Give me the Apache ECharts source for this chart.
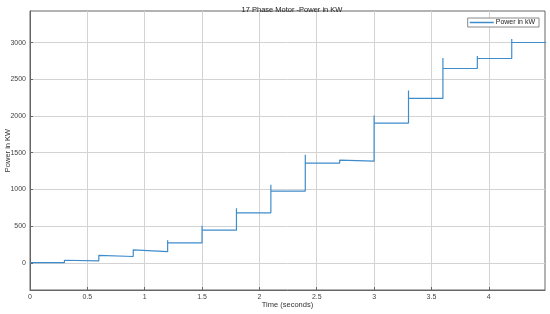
<!DOCTYPE html>
<html>
<head>
<meta charset="utf-8">
<script src="https://cdn.jsdelivr.net/npm/echarts@6/dist/echarts.min.js"></script>
<style>
  html, body { margin: 0; padding: 0; background: #fff; }
  #chart { width: 550px; height: 314px; }
</style>
</head>
<body>
<div id="chart"></div>
<script>
// step times (seconds)
const stepTimes = [0.3, 0.6, 0.9, 1.2, 1.5, 1.8, 2.1, 2.4, 2.7, 3.0, 3.3, 3.6, 3.9, 4.2];
// power level held during each interval (kW)
const levels = [3, 27, 86, 152, 272, 445, 681, 977, 1358, 1385, 1903, 2239, 2647, 2783, 3001];
// short overshoot at each switching instant (kW)
const peaks = [35, 102, 177, 309, 504, 745, 1063, 1471, 1399, 2007, 2348, 2789, 2816, 3048];
const endTime = 4.5;

const xTicks = [0, 0.5, 1, 1.5, 2, 2.5, 3, 3.5, 4];
const yTicks = [0, 500, 1000, 1500, 2000, 2500, 3000];

// build the stepped trace
const trace = [[0, levels[0]]];
stepTimes.forEach((t, i) => {
  trace.push([t, levels[i]]);
  trace.push([t, peaks[i]]);
  trace.push([t, levels[i + 1]]);
});
trace.push([endTime, levels[levels.length - 1]]);

const chart = echarts.init(document.getElementById('chart'));
const font = 'Liberation Sans, Arial, sans-serif';

chart.setOption({
  animation: false,
  textStyle: { fontFamily: font },
  title: {
    text: '17 Phase Motor -Power in KW',
    left: 287,
    textAlign: 'center',
    top: 1,
    textStyle: { fontSize: 7.5, fontWeight: 'normal', color: '#222', fontFamily: font }
  },
  legend: {
    right: 11,
    top: 18,
    padding: [1, 4, 1, 2],
    icon: 'rect',
    itemWidth: 24,
    itemHeight: 1.5,
    borderColor: '#888',
    borderWidth: 1,
    backgroundColor: '#fff',
    textStyle: { fontSize: 7, color: '#222', padding: [0, 0, 0, -3] }
  },
  grid: {
    left: 30, right: 5, top: 11, bottom: 24,
    containLabel: false,
    outerBoundsMode: 'none',
    show: true, borderColor: '#666', borderWidth: 1
  },
  xAxis: {
    type: 'value',
    min: 0,
    max: 4.49,
    name: 'Time (seconds)',
    nameLocation: 'middle',
    nameGap: 11,
    nameMoveOverlap: false,
    nameTextStyle: { fontSize: 7.5, color: '#333' },
    axisLine: { onZero: false, lineStyle: { color: '#666' } },
    axisTick: { inside: true, length: 3, lineStyle: { color: '#666' }, customValues: xTicks },
    axisLabel: { fontSize: 7, color: '#444', margin: 4, customValues: xTicks },
    splitLine: { show: true, lineStyle: { color: '#d3d3d3', width: 1 } }
  },
  yAxis: {
    type: 'value',
    min: -370,
    max: 3430,
    name: 'Power in KW',
    nameLocation: 'middle',
    nameGap: 18,
    nameMoveOverlap: false,
    nameTextStyle: { fontSize: 7.5, color: '#333' },
    axisLine: { show: true, onZero: false, lineStyle: { color: '#666' } },
    axisTick: { show: true, inside: true, length: 3, lineStyle: { color: '#666' }, customValues: yTicks },
    axisLabel: { fontSize: 7, color: '#444', margin: 4, customValues: yTicks, formatter: v => String(v) },
    splitLine: { show: true, lineStyle: { color: '#d3d3d3', width: 1 } }
  },
  series: [{
    name: 'Power in kW',
    type: 'line',
    symbol: 'none',
    data: trace,
    lineStyle: { color: '#3f8ccb', width: 1.2 },
    itemStyle: { color: '#3f8ccb' }
  }]
});
</script>
</body>
</html>
